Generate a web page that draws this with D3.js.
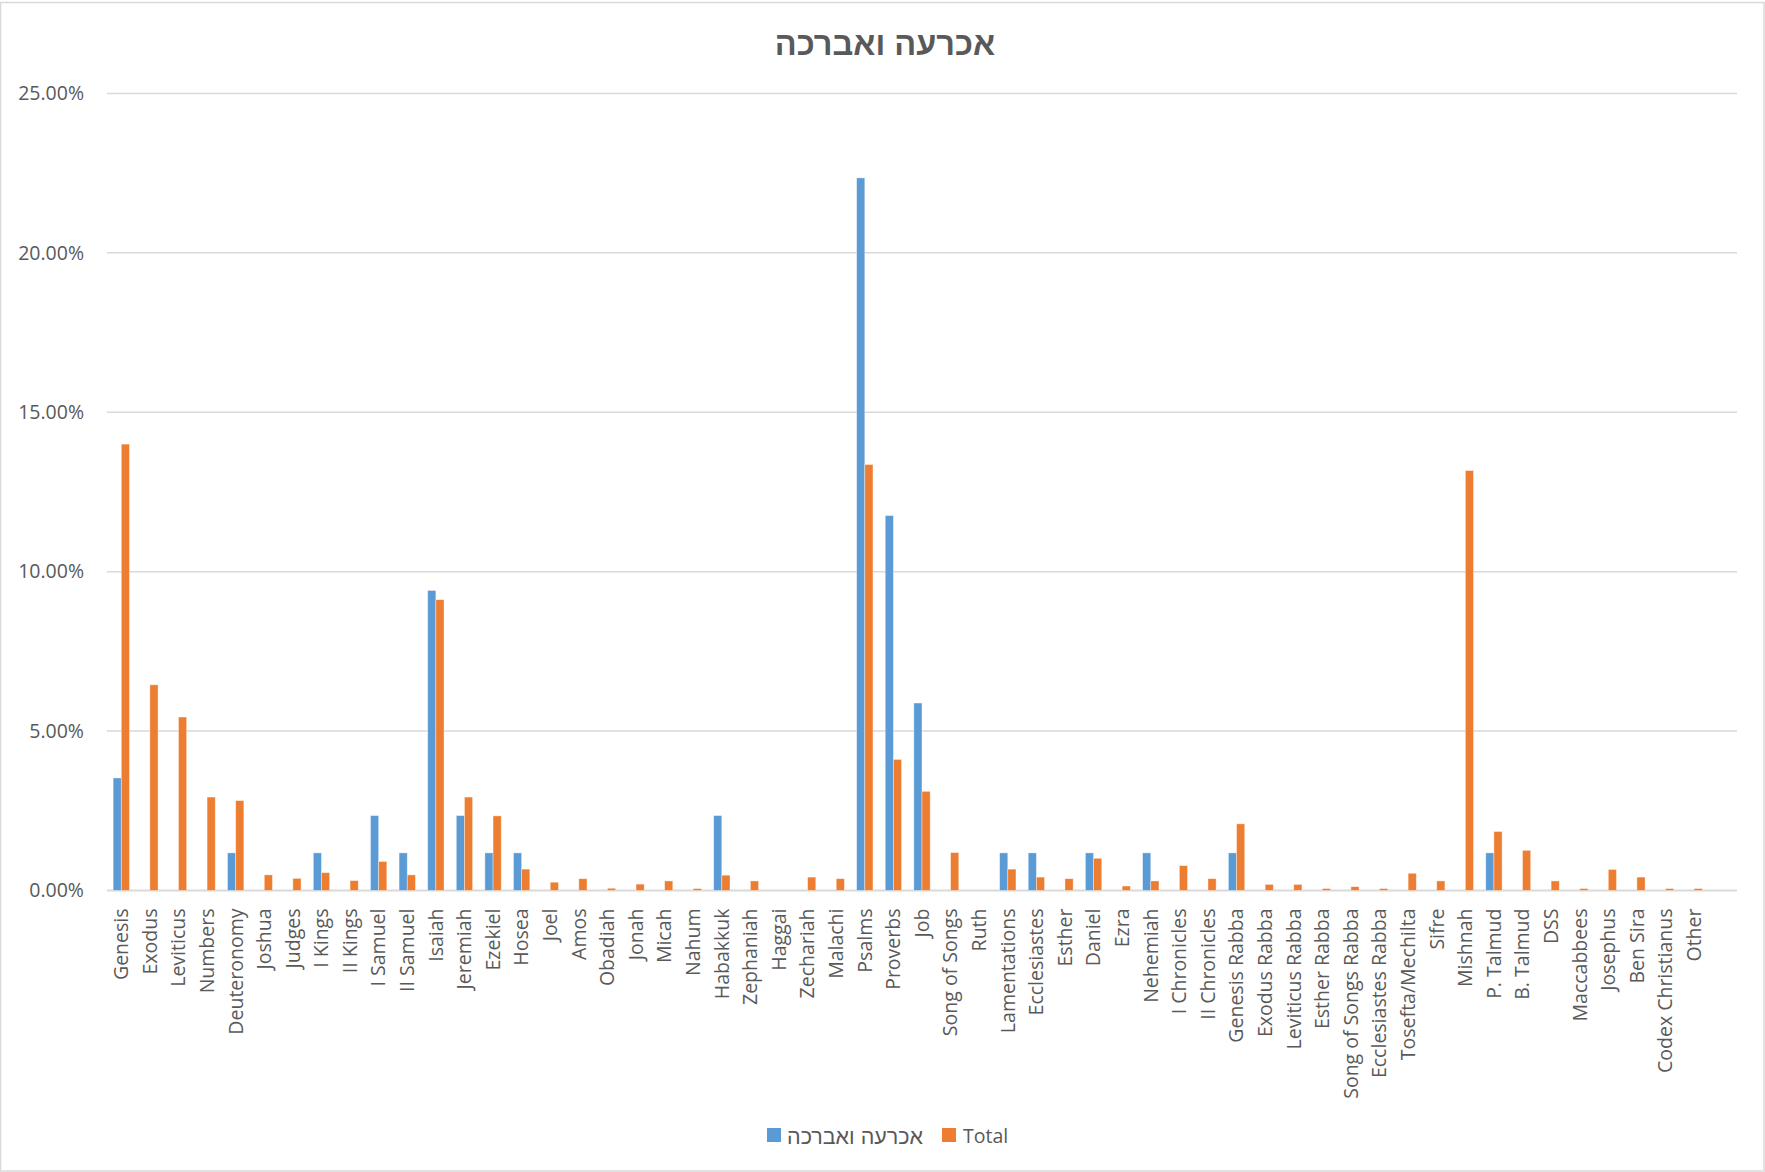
<!DOCTYPE html>
<html><head><meta charset="utf-8">
<script src="https://cdn.jsdelivr.net/npm/d3@7/dist/d3.min.js"></script>
<style>
html,body{margin:0;padding:0;background:#fff;}
svg{display:block;}
text{font-family:"Open Sans","DejaVu Sans",sans-serif;fill:#595959;}
</style></head>
<body>
<svg id="chart" width="1765" height="1172"></svg>
<script>
const title = "אכרעה ואברכה";
const seriesNames = ["אכרעה ואברכה", "Total"];
const seriesColors = ["#5B9BD5", "#ED7D31"];
const categories = ["Genesis","Exodus","Leviticus","Numbers","Deuteronomy","Joshua","Judges","I Kings","II Kings","I Samuel","II Samuel","Isaiah","Jeremiah","Ezekiel","Hosea","Joel","Amos","Obadiah","Jonah","Micah","Nahum","Habakkuk","Zephaniah","Haggai","Zechariah","Malachi","Psalms","Proverbs","Job","Song of Songs","Ruth","Lamentations","Ecclesiastes","Esther","Daniel","Ezra","Nehemiah","I Chronicles","II Chronicles","Genesis Rabba","Exodus Rabba","Leviticus Rabba","Esther Rabba","Song of Songs Rabba","Ecclesiastes Rabba","Tosefta/Mechilta","Sifre","Mishnah","P. Talmud","B. Talmud","DSS","Maccabbees","Josephus","Ben Sira","Codex Christianus","Other",""];
// percentages
const blueValues = [3.53,0,0,0,1.18,0,0,1.18,0,2.35,1.18,9.41,2.35,1.18,1.18,0,0,0,0,0,0,2.35,0,0,0,0,22.35,11.76,5.88,0,0,1.18,1.18,0,1.18,0,1.18,0,0,1.18,0,0,0,0,0,0,0,0,1.18,0,0,0,0,0,0,0,null];
const totalValues = [14.0,6.45,5.44,2.93,2.82,0.49,0.38,0.56,0.31,0.91,0.49,9.12,2.93,2.34,0.67,0.26,0.37,0.07,0.20,0.30,0.06,0.48,0.30,0,0.42,0.37,13.36,4.11,3.11,1.19,0,0.67,0.42,0.37,1.01,0.14,0.30,0.78,0.37,2.09,0.19,0.19,0.06,0.12,0.06,0.54,0.30,13.17,1.85,1.26,0.30,0.06,0.66,0.42,0.06,0.06,null];
const yTicks = [0,5,10,15,20,25];

const svg = d3.select("#chart");
const W = 1765, H = 1172;
const m = {left:107, right:1737, top:93.4, bottom:890.5};

svg.append("rect").attr("x",0.5).attr("y",2.5).attr("width",W-1.5).attr("height",H-3.5)
  .attr("fill","#fff").attr("stroke","#d9d9d9").attr("stroke-width",1.5);

const x = d3.scaleBand().domain(d3.range(categories.length)).range([m.left,m.right]).paddingInner(0).paddingOuter(0);
const y = d3.scaleLinear().domain([0,25]).range([m.bottom,m.top]);
const barW = x.bandwidth()/3.5;

// gridlines
svg.append("g").selectAll("line").data(yTicks).join("line")
  .attr("x1",m.left).attr("x2",m.right)
  .attr("y1",d=>y(d)).attr("y2",d=>y(d))
  .attr("stroke","#d9d9d9").attr("stroke-width",d=>d===0?2:1.5);

// y labels
const yAxis = d3.axisLeft(y).tickValues(yTicks).tickFormat(d=>d3.format(".2f")(d)+"%").tickSize(0).tickPadding(0);
const gy = svg.append("g").attr("transform",`translate(84,0)`).call(yAxis);
gy.select(".domain").remove();
gy.selectAll("text").attr("font-size","19.5px").attr("fill","#595959").attr("font-family",'"Open Sans",sans-serif');

// bars
const series = [blueValues,totalValues];
series.forEach((vals,si)=>{
  svg.append("g").selectAll("rect").data(vals.map((v,i)=>({v,i})).filter(d=>d.v!=null && d.v>0)).join("rect")
    .attr("x",d=>x(d.i)+x.bandwidth()/2 - barW + si*barW)
    .attr("width",barW)
    .attr("y",d=>y(d.v))
    .attr("height",d=>y(0)-y(d.v))
    .attr("fill",seriesColors[si])
    .attr("stroke","#fff").attr("stroke-opacity",0.5).attr("stroke-width",0.75);
});

// category labels
svg.append("g").selectAll("text").data(categories.map((c,i)=>({c,i}))).join("text")
  .attr("transform",d=>`translate(${x(d.i)+x.bandwidth()/2},${m.bottom+18}) rotate(-90)`)
  .attr("text-anchor","end").attr("dy","0.35em")
  .attr("font-size","19.5px")
  .text(d=>d.c);

// title
svg.append("text").attr("x",885).attr("y",43.5).attr("text-anchor","middle").attr("dy","0.35em")
  .attr("font-size","32.5px").attr("font-weight","bold")
  .style("font-family",'"Liberation Sans","DejaVu Sans",sans-serif')
  .text(title);

// legend
const legend = svg.append("g");
const lg = [{name:seriesNames[0],color:seriesColors[0],sx:767,tx:787,fs:"21.5px",ff:'"Liberation Sans",sans-serif'},
            {name:seriesNames[1],color:seriesColors[1],sx:942,tx:963,fs:"19.5px",ff:'"Open Sans",sans-serif'}];
lg.forEach(d=>{
  legend.append("rect").attr("x",d.sx).attr("y",1128).attr("width",14).attr("height",14).attr("fill",d.color);
  legend.append("text").attr("x",d.tx).attr("y",1136).attr("dy","0.35em").attr("font-size",d.fs)
    .style("font-family",d.ff)
    .attr("text-anchor","start").attr("direction","ltr").text(d.name);
});
</script>
</body></html>
